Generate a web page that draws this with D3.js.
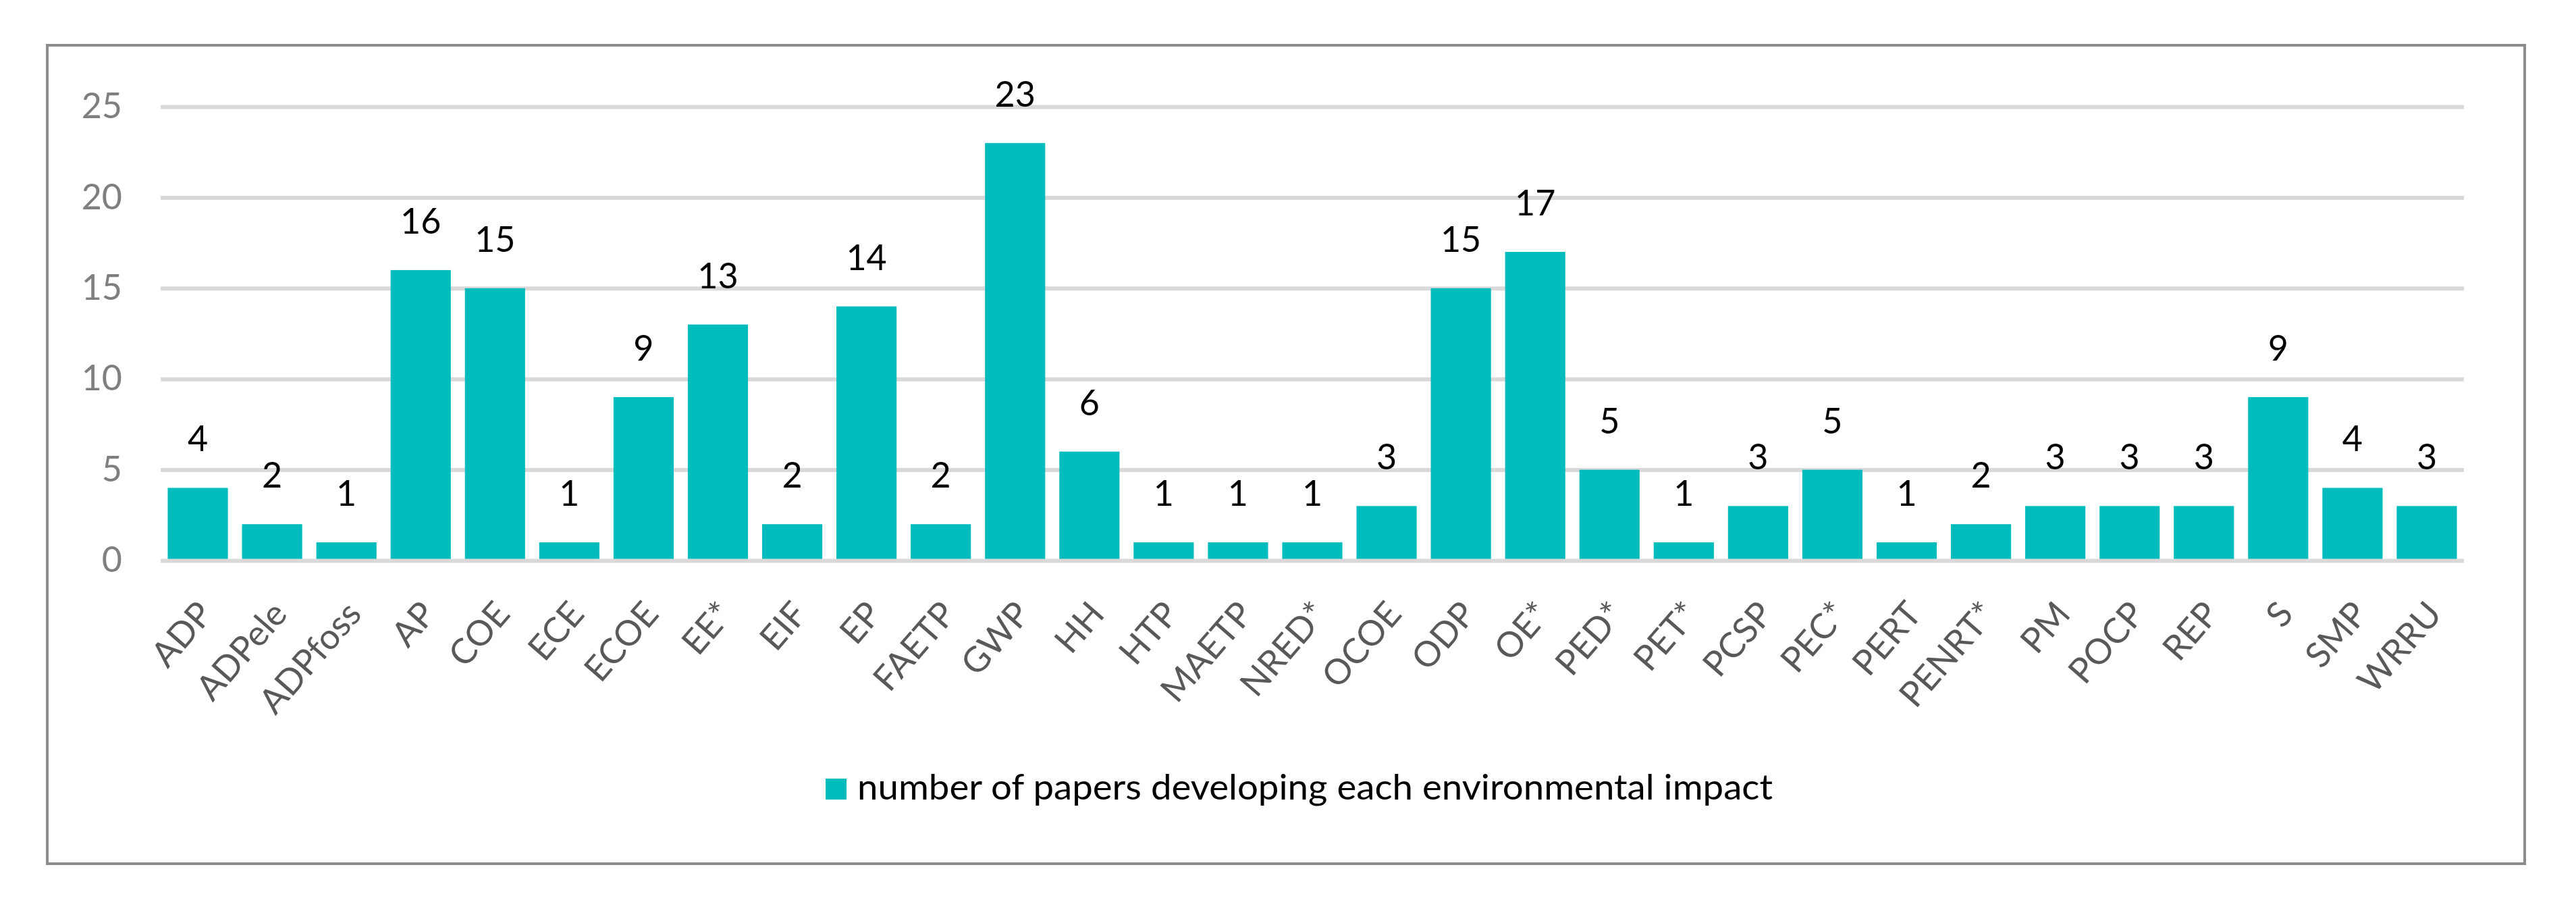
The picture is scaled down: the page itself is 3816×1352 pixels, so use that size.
<!DOCTYPE html>
<html>
<head>
<meta charset="utf-8">
<script src="https://cdn.jsdelivr.net/npm/d3@7"></script>
<style>
  html, body { margin: 0; padding: 0; background: #ffffff; }
  svg { display: block; }
  text { font-family: Lato, "Open Sans", "Liberation Sans", sans-serif; }
</style>
</head>
<body>
<svg id="chart" width="3816" height="1352"></svg>
<script>
const categories = ["ADP","ADPele","ADPfoss","AP","COE","ECE","ECOE","EE*","EIF","EP","FAETP","GWP","HH","HTP","MAETP","NRED*","OCOE","ODP","OE*","PED*","PET*","PCSP","PEC*","PERT","PENRT*","PM","POCP","REP","S","SMP","WRRU"];
const values = [4,2,1,16,15,1,9,13,2,14,2,23,6,1,1,1,3,15,17,5,1,3,5,1,2,3,3,3,9,4,3];
const yTicks = [0,5,10,15,20,25];
const seriesName = "number of papers developing each environmental impact";

const svg = d3.select("#chart");
const W = 3816, H = 1352;
svg.append("rect").attr("width", W).attr("height", H).attr("fill", "#ffffff");

// frame
svg.append("rect")
  .attr("x", 70).attr("y", 67)
  .attr("width", 3740 - 70).attr("height", 1279 - 67)
  .attr("fill", "none").attr("stroke", "#8c8c8c").attr("stroke-width", 4);

const plotLeft = 238, plotRight = 3650;
const x = d3.scaleBand().domain(categories).range([plotLeft, plotRight])
  .paddingInner(0.19).paddingOuter(0.095);
const y = d3.scaleLinear().domain([0, 25]).range([830, 158]);

// gridlines
const grid = svg.append("g").attr("transform", `translate(${plotLeft},0)`)
  .call(d3.axisLeft(y).tickValues(yTicks.filter(t => t !== 0)).tickSize(-(plotRight - plotLeft)).tickFormat(""));
grid.select(".domain").remove();
grid.selectAll("line").attr("stroke", "#d9d9d9").attr("stroke-width", 6);

// bars
svg.append("g").selectAll("rect").data(categories).join("rect")
  .attr("x", (d) => x(d))
  .attr("y", (d, i) => y(values[i]))
  .attr("width", x.bandwidth())
  .attr("height", (d, i) => y(0) - y(values[i]))
  .attr("fill", "#00bcbc");

// zero line
const zero = svg.append("g").attr("transform", `translate(${plotLeft},0)`)
  .call(d3.axisLeft(y).tickValues([0]).tickSize(-(plotRight - plotLeft)).tickFormat(""));
zero.select(".domain").remove();
zero.selectAll("line").attr("stroke", "#d9d9d9").attr("stroke-width", 6);

// y axis labels
const yAxis = svg.append("g").attr("transform", `translate(${plotLeft},0)`)
  .call(d3.axisLeft(y).tickValues(yTicks).tickSize(0).tickPadding(57).tickFormat(d3.format("d")));
yAxis.select(".domain").remove();
yAxis.selectAll("text")
  .attr("font-size", 52).attr("fill", "#7f7f7f")
  .style("font-family", "Lato, 'Open Sans', sans-serif");

// x axis labels
const xAxis = svg.append("g").attr("transform", `translate(0,${y(0)})`)
  .call(d3.axisBottom(x).tickSize(0));
xAxis.select(".domain").remove();
xAxis.selectAll("text")
  .attr("font-size", 52).attr("fill", "#595959")
  .attr("text-anchor", "end")
  .attr("x", 11).attr("y", 69).attr("dy", "0.35em")
  .attr("transform", "rotate(-49, 11, 69)")
  .style("font-family", "Lato, 'Open Sans', sans-serif");

// data labels
svg.append("g").selectAll("text").data(categories).join("text")
  .attr("x", (d) => x(d) + x.bandwidth() / 2)
  .attr("y", (d, i) => y(values[i]) - 54)
  .attr("text-anchor", "middle")
  .attr("font-size", 52).attr("fill", "#000000")
  .text((d, i) => values[i]);

// legend
const lg = svg.append("g");
lg.append("rect").attr("x", 1223).attr("y", 1153).attr("width", 31).attr("height", 31).attr("fill", "#00bcbc");
lg.append("text").attr("x", 1270).attr("y", 1184)
  .attr("font-size", 52).attr("fill", "#000000")
  .attr("textLength", 1356).attr("lengthAdjust", "spacingAndGlyphs")
  .text(seriesName);
</script>
</body>
</html>
